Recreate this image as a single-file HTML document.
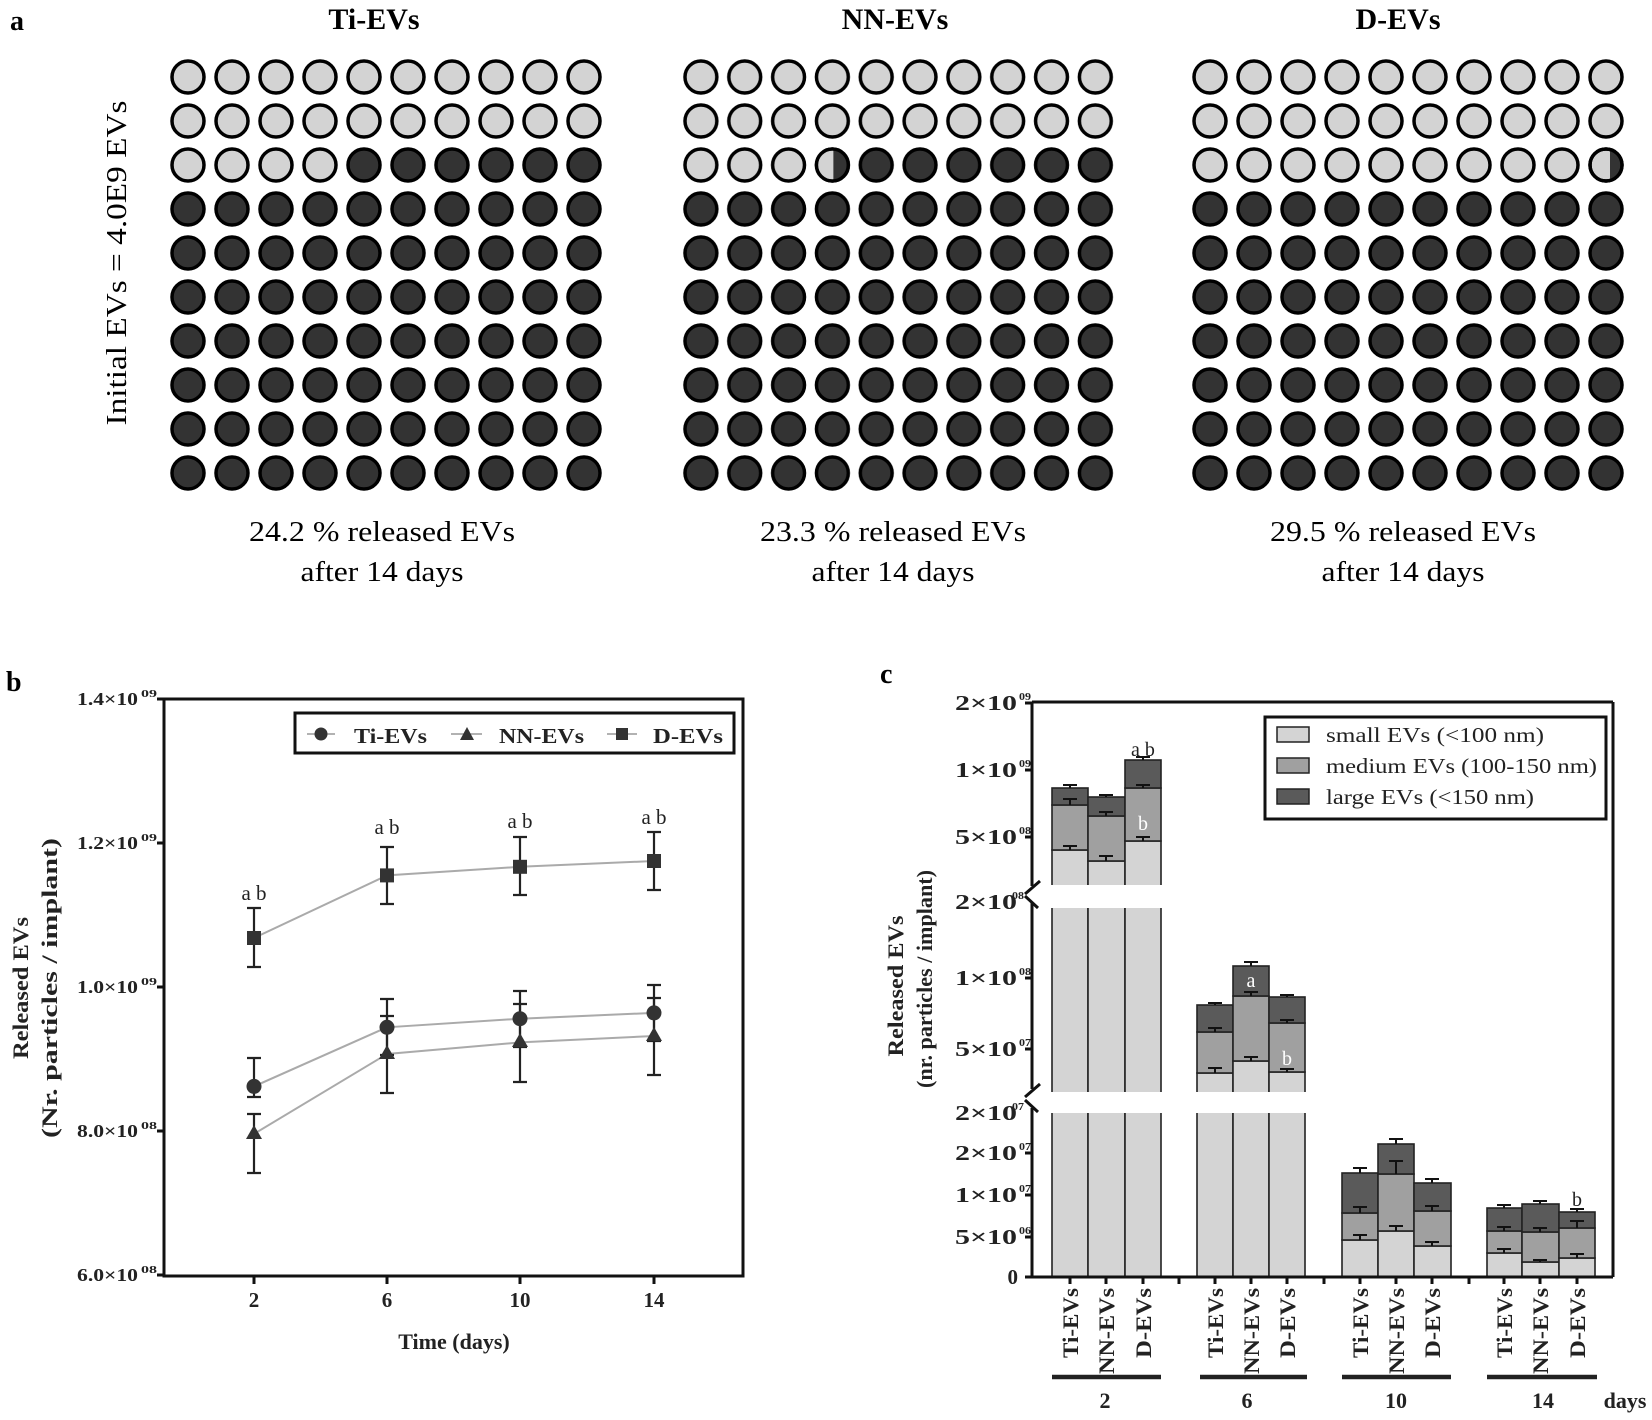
<!DOCTYPE html>
<html><head><meta charset="utf-8">
<style>
html,body{margin:0;padding:0;background:#fff;}
svg{display:block;font-family:"Liberation Serif",serif;}
</style></head>
<body>
<svg width="1652" height="1420" viewBox="0 0 1652 1420" xmlns="http://www.w3.org/2000/svg" style="font-family:'Liberation Serif',serif">
<defs>
  <pattern id="pL" width="44" height="44" patternUnits="userSpaceOnUse">
    <circle cx="22" cy="22" r="16" fill="#d3d3d3" stroke="#000" stroke-width="3.5"/>
  </pattern>
  <pattern id="pD" width="44" height="44" patternUnits="userSpaceOnUse">
    <circle cx="22" cy="22" r="16" fill="#333" stroke="#000" stroke-width="3.5"/>
  </pattern>
  <clipPath id="cNN"><rect x="155" y="90" width="30" height="40"/></clipPath>
  <clipPath id="cD"><rect x="422" y="90" width="30" height="40"/></clipPath>
</defs>

<!-- ============ PANEL A ============ -->
<text x="10" y="30" font-size="28" font-weight="bold">a</text>
<text x="374" y="29" font-size="30" font-weight="bold" text-anchor="middle">Ti-EVs</text>
<text x="895" y="29" font-size="30" font-weight="bold" text-anchor="middle">NN-EVs</text>
<text x="1398" y="29" font-size="30" font-weight="bold" text-anchor="middle">D-EVs</text>

<text transform="translate(126,263) rotate(-90)" font-size="28" text-anchor="middle" textLength="325" lengthAdjust="spacingAndGlyphs">Initial EVs  = 4.0E9 EVs</text>

<g transform="translate(166,55)">
  <rect x="0" y="0" width="440" height="88" fill="url(#pL)"/>
  <rect x="0" y="88" width="176" height="44" fill="url(#pL)"/>
  <rect x="176" y="88" width="264" height="44" fill="url(#pD)"/>
  <rect x="0" y="132" width="440" height="308" fill="url(#pD)"/>
</g>
<g transform="translate(679,55) scale(0.996,1)">
  <rect x="0" y="0" width="440" height="88" fill="url(#pL)"/>
  <rect x="0" y="88" width="176" height="44" fill="url(#pL)"/>
  <rect x="176" y="88" width="264" height="44" fill="url(#pD)"/>
  <rect x="0" y="132" width="440" height="308" fill="url(#pD)"/>
  <circle cx="154" cy="110" r="16" fill="#d3d3d3"/>
  <circle cx="154" cy="110" r="16" fill="#333" clip-path="url(#cNN)"/>
  <circle cx="154" cy="110" r="16" fill="none" stroke="#000" stroke-width="3.5"/>
</g>
<g transform="translate(1188,55)">
  <rect x="0" y="0" width="440" height="132" fill="url(#pL)"/>
  <rect x="0" y="132" width="440" height="308" fill="url(#pD)"/>
  <circle cx="418" cy="110" r="16" fill="#333" clip-path="url(#cD)"/>
  <circle cx="418" cy="110" r="16" fill="none" stroke="#000" stroke-width="3.5"/>
</g>

<g font-size="28" text-anchor="middle">
  <text x="382" y="541" textLength="266" lengthAdjust="spacingAndGlyphs">24.2 % released EVs</text>
  <text x="382" y="581" textLength="163" lengthAdjust="spacingAndGlyphs">after 14 days</text>
  <text x="893" y="541" textLength="266" lengthAdjust="spacingAndGlyphs">23.3 % released EVs</text>
  <text x="893" y="581" textLength="163" lengthAdjust="spacingAndGlyphs">after 14 days</text>
  <text x="1403" y="541" textLength="266" lengthAdjust="spacingAndGlyphs">29.5 % released EVs</text>
  <text x="1403" y="581" textLength="163" lengthAdjust="spacingAndGlyphs">after 14 days</text>
</g>

<!-- ============ PANEL B ============ -->
<text x="6" y="691" font-size="28" font-weight="bold">b</text>
<rect x="164" y="699" width="579" height="577" fill="none" stroke="#111" stroke-width="3"/>
<g stroke="#111" stroke-width="3">
  <line x1="157" y1="699" x2="164" y2="699"/>
  <line x1="157" y1="843" x2="164" y2="843"/>
  <line x1="157" y1="987" x2="164" y2="987"/>
  <line x1="157" y1="1131" x2="164" y2="1131"/>
  <line x1="157" y1="1275" x2="164" y2="1275"/>
  <line x1="254" y1="1276" x2="254" y2="1284"/>
  <line x1="387" y1="1276" x2="387" y2="1284"/>
  <line x1="520" y1="1276" x2="520" y2="1284"/>
  <line x1="654" y1="1276" x2="654" y2="1284"/>
</g>
<g font-weight="bold" font-size="18" fill="#222">
  <g text-anchor="end">
  <text x="138" y="705" textLength="61" lengthAdjust="spacingAndGlyphs">1.4×10</text>
  <text x="138" y="849" textLength="61" lengthAdjust="spacingAndGlyphs">1.2×10</text>
  <text x="138" y="993" textLength="61" lengthAdjust="spacingAndGlyphs">1.0×10</text>
  <text x="138" y="1137" textLength="61" lengthAdjust="spacingAndGlyphs">8.0×10</text>
  <text x="138" y="1281" textLength="61" lengthAdjust="spacingAndGlyphs">6.0×10</text>
  </g>
  <g font-size="11" text-anchor="end">
  <text x="157" y="697" textLength="16" lengthAdjust="spacingAndGlyphs">09</text>
  <text x="157" y="841" textLength="16" lengthAdjust="spacingAndGlyphs">09</text>
  <text x="157" y="985" textLength="16" lengthAdjust="spacingAndGlyphs">09</text>
  <text x="157" y="1129" textLength="16" lengthAdjust="spacingAndGlyphs">08</text>
  <text x="157" y="1273" textLength="16" lengthAdjust="spacingAndGlyphs">08</text>
  </g>
</g>
<g font-weight="bold" font-size="21" text-anchor="middle" fill="#222">
  <text x="254" y="1307">2</text>
  <text x="387" y="1307">6</text>
  <text x="520" y="1307">10</text>
  <text x="654" y="1307">14</text>
  <text x="454" y="1349" font-size="22">Time (days)</text>
</g>
<g font-weight="bold" font-size="22" text-anchor="middle" fill="#222">
  <text transform="translate(28,988) rotate(-90)" textLength="142" lengthAdjust="spacingAndGlyphs">Released EVs</text>
  <text transform="translate(57,988) rotate(-90)" textLength="300" lengthAdjust="spacingAndGlyphs">(Nr. particles / implant)</text>
</g>
<g fill="none" stroke="#aaa" stroke-width="2">
  <polyline points="254,938 387,875.4 520,866.8 654,861"/>
  <polyline points="254,1086.4 387,1027.3 520,1018.7 654,1012.9"/>
  <polyline points="254,1133.9 387,1054 520,1042.4 654,1036"/>
</g>
<g stroke="#222" stroke-width="2.2" fill="none">
  <path d="M254,967V908M247,967h14M247,908h14"/>
  <path d="M387,904V847M380,904h14M380,847h14"/>
  <path d="M520,895V837M513,895h14M513,837h14"/>
  <path d="M654,890V832M647,890h14M647,832h14"/>
  <path d="M254,1097V1058M247,1097h14M247,1058h14"/>
  <path d="M387,1055V999M380,1055h14M380,999h14"/>
  <path d="M520,1047V991M513,1047h14M513,991h14"/>
  <path d="M654,1041V985M647,1041h14M647,985h14"/>
  <path d="M254,1173V1114M247,1173h14M247,1114h14"/>
  <path d="M387,1093V1016M380,1093h14M380,1016h14"/>
  <path d="M520,1082V1004M513,1082h14M513,1004h14"/>
  <path d="M654,1075V998M647,1075h14M647,998h14"/>
</g>
<g fill="#333">
  <rect x="247" y="931" width="14" height="14"/>
  <rect x="380" y="868.4" width="14" height="14"/>
  <rect x="513" y="859.8" width="14" height="14"/>
  <rect x="647" y="854" width="14" height="14"/>
  <circle cx="254" cy="1086.4" r="7.5"/>
  <circle cx="387" cy="1027.3" r="7.5"/>
  <circle cx="520" cy="1018.7" r="7.5"/>
  <circle cx="654" cy="1012.9" r="7.5"/>
  <polygon points="254,1125 246,1139 262,1139"/>
  <polygon points="387,1045 379,1059 395,1059"/>
  <polygon points="520,1033 512,1047 528,1047"/>
  <polygon points="654,1027 646,1041 662,1041"/>
</g>
<g font-size="21" text-anchor="middle" fill="#222">
  <text x="254" y="900">a b</text>
  <text x="387" y="834">a b</text>
  <text x="520" y="828">a b</text>
  <text x="654" y="824">a b</text>
</g>
<rect x="295" y="713" width="439" height="40" fill="#fff" stroke="#111" stroke-width="3"/>
<g stroke="#999" stroke-width="1.5">
  <line x1="307" y1="734" x2="335" y2="734"/>
  <line x1="451" y1="734" x2="482" y2="734"/>
  <line x1="607" y1="734" x2="637" y2="734"/>
</g>
<g fill="#333">
  <circle cx="321" cy="734" r="6.5"/>
  <polygon points="467,727 460,740 474,740"/>
  <rect x="616" y="728" width="12" height="12"/>
</g>
<g font-weight="bold" font-size="21" fill="#222">
  <text x="354" y="743" textLength="73" lengthAdjust="spacingAndGlyphs">Ti-EVs</text>
  <text x="499" y="743" textLength="85" lengthAdjust="spacingAndGlyphs">NN-EVs</text>
  <text x="653" y="743" textLength="70" lengthAdjust="spacingAndGlyphs">D-EVs</text>
</g>

<!-- ============ PANEL C ============ -->
<text x="880" y="683" font-size="28" font-weight="bold">c</text>

<g stroke="#222" stroke-width="1.6">
  <rect x="1052" y="850" width="36" height="427" fill="#d4d4d4"/>
  <rect x="1052" y="805" width="36" height="45" fill="#a0a0a0"/>
  <rect x="1052" y="788" width="36" height="17" fill="#5a5a5a"/>
  <rect x="1088" y="861" width="37" height="416" fill="#d4d4d4"/>
  <rect x="1088" y="816" width="37" height="45" fill="#a0a0a0"/>
  <rect x="1088" y="797" width="37" height="19" fill="#5a5a5a"/>
  <rect x="1125" y="841" width="36" height="436" fill="#d4d4d4"/>
  <rect x="1125" y="788" width="36" height="53" fill="#a0a0a0"/>
  <rect x="1125" y="760" width="36" height="28" fill="#5a5a5a"/>
  <rect x="1197" y="1073" width="36" height="204" fill="#d4d4d4"/>
  <rect x="1197" y="1032" width="36" height="41" fill="#a0a0a0"/>
  <rect x="1197" y="1005" width="36" height="27" fill="#5a5a5a"/>
  <rect x="1233" y="1061" width="36" height="216" fill="#d4d4d4"/>
  <rect x="1233" y="996" width="36" height="65" fill="#a0a0a0"/>
  <rect x="1233" y="966" width="36" height="30" fill="#5a5a5a"/>
  <rect x="1269" y="1072" width="36" height="205" fill="#d4d4d4"/>
  <rect x="1269" y="1023" width="36" height="49" fill="#a0a0a0"/>
  <rect x="1269" y="997" width="36" height="26" fill="#5a5a5a"/>
  <rect x="1342" y="1240" width="36" height="37" fill="#d4d4d4"/>
  <rect x="1342" y="1213" width="36" height="27" fill="#a0a0a0"/>
  <rect x="1342" y="1173" width="36" height="40" fill="#5a5a5a"/>
  <rect x="1378" y="1231" width="36" height="46" fill="#d4d4d4"/>
  <rect x="1378" y="1174" width="36" height="57" fill="#a0a0a0"/>
  <rect x="1378" y="1144" width="36" height="30" fill="#5a5a5a"/>
  <rect x="1414" y="1246" width="37" height="31" fill="#d4d4d4"/>
  <rect x="1414" y="1211" width="37" height="35" fill="#a0a0a0"/>
  <rect x="1414" y="1183" width="37" height="28" fill="#5a5a5a"/>
  <rect x="1487" y="1253" width="35" height="24" fill="#d4d4d4"/>
  <rect x="1487" y="1231" width="35" height="22" fill="#a0a0a0"/>
  <rect x="1487" y="1208" width="35" height="23" fill="#5a5a5a"/>
  <rect x="1522" y="1262" width="37" height="15" fill="#d4d4d4"/>
  <rect x="1522" y="1232" width="37" height="30" fill="#a0a0a0"/>
  <rect x="1522" y="1204" width="37" height="28" fill="#5a5a5a"/>
  <rect x="1559" y="1258" width="36" height="19" fill="#d4d4d4"/>
  <rect x="1559" y="1228" width="36" height="30" fill="#a0a0a0"/>
  <rect x="1559" y="1212" width="36" height="16" fill="#5a5a5a"/>
</g>
<rect x="1040" y="885" width="130" height="23" fill="#fff"/>
<rect x="1040" y="1092" width="270" height="21" fill="#fff"/>

<g stroke="#111" stroke-width="2" fill="none">
  <path d="M1070,788V785M1063,785h14M1070,805V799M1063,799h14M1070,850V846M1063,846h14"/>
  <path d="M1106,797V795M1099,795h14M1106,816V812M1099,812h14M1106,861V856M1099,856h14"/>
  <path d="M1143,760V757M1136,757h14M1143,788V785M1136,785h14M1143,841V837M1136,837h14"/>
  <path d="M1215,1005V1003M1208,1003h14M1215,1032V1028M1208,1028h14M1215,1073V1068M1208,1068h14"/>
  <path d="M1251,966V962M1244,962h14M1251,996V992M1244,992h14M1251,1061V1057M1244,1057h14"/>
  <path d="M1287,997V995M1280,995h14M1287,1023V1020M1280,1020h14M1287,1072V1069M1280,1069h14"/>
  <path d="M1360,1173V1168M1353,1168h14M1360,1213V1207M1353,1207h14M1360,1240V1235M1353,1235h14"/>
  <path d="M1396,1144V1139M1389,1139h14M1396,1174V1161M1389,1161h14M1396,1231V1226M1389,1226h14"/>
  <path d="M1432,1183V1179M1425,1179h14M1432,1211V1206M1425,1206h14M1432,1246V1242M1425,1242h14"/>
  <path d="M1504,1208V1205M1497,1205h14M1504,1231V1227M1497,1227h14M1504,1253V1249M1497,1249h14"/>
  <path d="M1540,1204V1201M1533,1201h14M1540,1232V1228M1533,1228h14M1540,1262V1260M1533,1260h14"/>
  <path d="M1577,1212V1209M1570,1209h14M1577,1228V1221M1570,1221h14M1577,1258V1254M1570,1254h14"/>
</g>
<g font-size="20" text-anchor="middle">
  <text x="1143" y="756" fill="#222">a b</text>
  <text x="1143" y="830" fill="#fff">b</text>
  <text x="1251" y="987" fill="#fff">a</text>
  <text x="1287" y="1065" fill="#fff">b</text>
  <text x="1577" y="1206" fill="#222">b</text>
</g>

<g stroke="#111" stroke-width="3" fill="none">
  <line x1="1032" y1="702" x2="1613" y2="702"/>
  <line x1="1613" y1="702" x2="1613" y2="1277"/>
  <line x1="1032" y1="1277" x2="1613" y2="1277"/>
  <line x1="1032" y1="702" x2="1032" y2="886"/>
  <line x1="1032" y1="903" x2="1032" y2="1089"/>
  <line x1="1032" y1="1108" x2="1032" y2="1277"/>
  <line x1="1025" y1="894" x2="1040" y2="881"/>
  <line x1="1025" y1="896" x2="1038" y2="908"/>
  <line x1="1025" y1="1097" x2="1040" y2="1084"/>
  <line x1="1025" y1="1100" x2="1038" y2="1112"/>
  <line x1="1025" y1="703" x2="1032" y2="703"/>
  <line x1="1025" y1="770" x2="1032" y2="770"/>
  <line x1="1025" y1="837" x2="1032" y2="837"/>
  <line x1="1025" y1="978" x2="1032" y2="978"/>
  <line x1="1025" y1="1049" x2="1032" y2="1049"/>
  <line x1="1025" y1="1153" x2="1032" y2="1153"/>
  <line x1="1025" y1="1195" x2="1032" y2="1195"/>
  <line x1="1025" y1="1237" x2="1032" y2="1237"/>
  <line x1="1025" y1="1277" x2="1032" y2="1277"/>
  <path d="M1070,1277v7M1106,1277v7M1143,1277v7M1179,1277v7M1215,1277v7M1251,1277v7M1287,1277v7M1324,1277v7M1360,1277v7M1396,1277v7M1432,1277v7M1469,1277v7M1504,1277v7M1540,1277v7M1577,1277v7"/>
</g>
<g font-weight="bold" font-size="21" fill="#222" text-anchor="end">
  <text x="1017" y="710" textLength="62" lengthAdjust="spacingAndGlyphs">2×10</text>
  <text x="1017" y="777" textLength="62" lengthAdjust="spacingAndGlyphs">1×10</text>
  <text x="1017" y="844" textLength="62" lengthAdjust="spacingAndGlyphs">5×10</text>
  <text x="1017" y="909" textLength="62" lengthAdjust="spacingAndGlyphs">2×10</text>
  <text x="1017" y="985" textLength="62" lengthAdjust="spacingAndGlyphs">1×10</text>
  <text x="1017" y="1056" textLength="62" lengthAdjust="spacingAndGlyphs">5×10</text>
  <text x="1017" y="1120" textLength="62" lengthAdjust="spacingAndGlyphs">2×10</text>
  <text x="1017" y="1160" textLength="62" lengthAdjust="spacingAndGlyphs">2×10</text>
  <text x="1017" y="1202" textLength="62" lengthAdjust="spacingAndGlyphs">1×10</text>
  <text x="1017" y="1244" textLength="62" lengthAdjust="spacingAndGlyphs">5×10</text>
  <text x="1018" y="1284">0</text>
</g>
<g font-weight="bold" font-size="11" fill="#222" text-anchor="end">
  <text x="1031" y="700" textLength="12" lengthAdjust="spacingAndGlyphs">09</text>
  <text x="1031" y="767" textLength="12" lengthAdjust="spacingAndGlyphs">09</text>
  <text x="1031" y="834" textLength="12" lengthAdjust="spacingAndGlyphs">08</text>
  <text x="1024" y="899" textLength="12" lengthAdjust="spacingAndGlyphs">08</text>
  <text x="1031" y="975" textLength="12" lengthAdjust="spacingAndGlyphs">08</text>
  <text x="1031" y="1046" textLength="12" lengthAdjust="spacingAndGlyphs">07</text>
  <text x="1024" y="1110" textLength="12" lengthAdjust="spacingAndGlyphs">07</text>
  <text x="1031" y="1150" textLength="12" lengthAdjust="spacingAndGlyphs">07</text>
  <text x="1031" y="1192" textLength="12" lengthAdjust="spacingAndGlyphs">07</text>
  <text x="1031" y="1234" textLength="12" lengthAdjust="spacingAndGlyphs">06</text>
</g>
<g font-weight="bold" font-size="22" text-anchor="middle" fill="#222">
  <text transform="translate(903,986) rotate(-90)" textLength="141" lengthAdjust="spacingAndGlyphs">Released EVs</text>
  <text transform="translate(932,979) rotate(-90)" textLength="218" lengthAdjust="spacingAndGlyphs">(nr. particles / implant)</text>
</g>
<rect x="1265" y="717" width="341" height="102" fill="#fff" stroke="#111" stroke-width="3"/>
<g stroke="#222" stroke-width="1.5">
  <rect x="1277" y="727" width="32" height="15" fill="#d4d4d4"/>
  <rect x="1277" y="758" width="32" height="15" fill="#a0a0a0"/>
  <rect x="1277" y="789" width="32" height="15" fill="#5a5a5a"/>
</g>
<g font-size="21" fill="#222">
  <text x="1326" y="742" textLength="218" lengthAdjust="spacingAndGlyphs">small EVs (&lt;100 nm)</text>
  <text x="1326" y="773" textLength="271" lengthAdjust="spacingAndGlyphs">medium EVs (100-150 nm)</text>
  <text x="1326" y="804" textLength="208" lengthAdjust="spacingAndGlyphs">large EVs (&lt;150 nm)</text>
</g>
<g font-weight="bold" font-size="22" text-anchor="end" fill="#222">
  <text transform="translate(1078,1288) rotate(-90)" textLength="70" lengthAdjust="spacingAndGlyphs">Ti-EVs</text>
  <text transform="translate(1114,1288) rotate(-90)" textLength="86" lengthAdjust="spacingAndGlyphs">NN-EVs</text>
  <text transform="translate(1151,1288) rotate(-90)" textLength="70" lengthAdjust="spacingAndGlyphs">D-EVs</text>
  <text transform="translate(1223,1288) rotate(-90)" textLength="70" lengthAdjust="spacingAndGlyphs">Ti-EVs</text>
  <text transform="translate(1259,1288) rotate(-90)" textLength="86" lengthAdjust="spacingAndGlyphs">NN-EVs</text>
  <text transform="translate(1295,1288) rotate(-90)" textLength="70" lengthAdjust="spacingAndGlyphs">D-EVs</text>
  <text transform="translate(1368,1288) rotate(-90)" textLength="70" lengthAdjust="spacingAndGlyphs">Ti-EVs</text>
  <text transform="translate(1404,1288) rotate(-90)" textLength="86" lengthAdjust="spacingAndGlyphs">NN-EVs</text>
  <text transform="translate(1440,1288) rotate(-90)" textLength="70" lengthAdjust="spacingAndGlyphs">D-EVs</text>
  <text transform="translate(1512,1288) rotate(-90)" textLength="70" lengthAdjust="spacingAndGlyphs">Ti-EVs</text>
  <text transform="translate(1548,1288) rotate(-90)" textLength="86" lengthAdjust="spacingAndGlyphs">NN-EVs</text>
  <text transform="translate(1585,1288) rotate(-90)" textLength="70" lengthAdjust="spacingAndGlyphs">D-EVs</text>
</g>
<g stroke="#222" stroke-width="4.5">
  <line x1="1052" y1="1377" x2="1161" y2="1377"/>
  <line x1="1200" y1="1377" x2="1307" y2="1377"/>
  <line x1="1342" y1="1377" x2="1451" y2="1377"/>
  <line x1="1487" y1="1377" x2="1597" y2="1377"/>
</g>
<g font-weight="bold" font-size="22" text-anchor="middle" fill="#222">
  <text x="1105" y="1408">2</text>
  <text x="1247" y="1408">6</text>
  <text x="1396" y="1408">10</text>
  <text x="1543" y="1408">14</text>
  <text x="1625" y="1408">days</text>
</g>
</svg>
</body></html>
